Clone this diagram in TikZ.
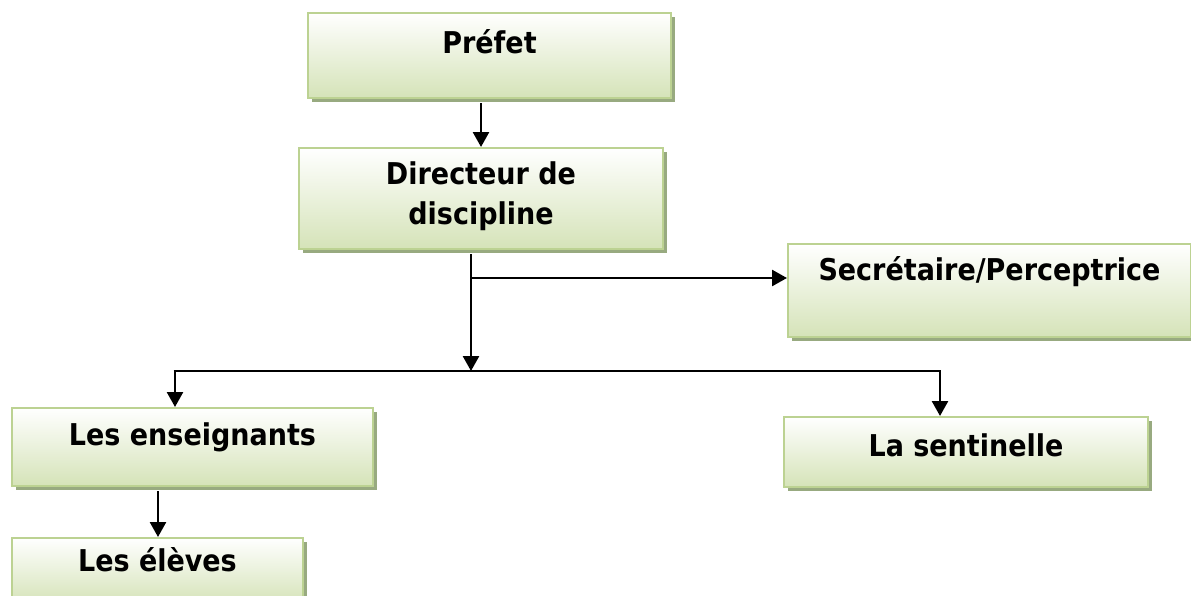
\documentclass[tikz,border=0pt]{standalone}
\usepackage{fontspec}
\setmainfont{DejaVu Sans Condensed}
\usetikzlibrary{arrows.meta,shadows}
\definecolor{boxedge}{HTML}{BCD292}
\definecolor{boxlow}{HTML}{D5E3B8}
\definecolor{boxshadow}{HTML}{98AA80}
\tikzset{
  box/.style={rectangle, anchor=north west, draw=boxedge, line width=2pt,
    top color=white, bottom color=boxlow,
    drop shadow={shadow xshift=4pt, shadow yshift=-4pt, fill=boxshadow, opacity=1}},
  lbl/.style={anchor=center, font=\bfseries\fontsize{30}{40}\selectfont, align=center},
  arr/.style={line width=2.6pt, -{Triangle[length=15pt,width=16pt]}},
  bus/.style={line width=2.6pt}
}
\begin{document}
\begin{tikzpicture}[x=1pt,y=-1pt]
\useasboundingbox (0,0) rectangle (1191,595);
\fill[white] (0,0) rectangle (1191,595);

% boxes of the chart
\node[box, minimum width=363pt, minimum height=85pt,
  label={[lbl,yshift=-30pt]north:Préfet}] (prefet) at (307,12) {};
\node[box, minimum width=364pt, minimum height=101pt] (dir) at (298,147) {};
\node[lbl] at ([yshift=2pt]dir.center) {Directeur de\\discipline};
\node[box, minimum width=403pt, minimum height=93pt,
  label={[lbl,yshift=-29pt]north:Secrétaire/Perceptrice}] (sec) at (787,243) {};
\node[box, minimum width=361pt, minimum height=78pt,
  label={[lbl,yshift=-30pt]north:Les enseignants}] (ens) at (11,407) {};
\node[box, minimum width=364pt, minimum height=70pt,
  label={[lbl,yshift=-29pt]north:La sentinelle}] (sent) at (783,416) {};
\node[box, minimum width=291pt, minimum height=66pt,
  label={[lbl,yshift=-23pt]north:Les élèves}] (eleves) at (11,537) {};

% branching points
\coordinate (hub) at (471,371);
\coordinate (br) at (471,278);
\coordinate (busL) at (175,371);
\coordinate (busR) at (940,371);
\coordinate (down) at (158,0);

% connectors
\draw[arr] ([yshift=-4pt]dir.north |- prefet.south) -- (dir.north);
\draw[arr] ([yshift=-4pt]dir.south -| hub) -- (hub);
\draw[arr] (br) -- (br -| sec.west);
\draw[bus] ([xshift=-1.3pt]busL) -- ([xshift=1.3pt]busR);
\draw[arr] (busL) -- (busL |- ens.north);
\draw[arr] (busR) -- (busR |- sent.north);
\draw[arr] ([yshift=-4pt]ens.south -| down) -- (eleves.north -| down);
\end{tikzpicture}
\end{document}
